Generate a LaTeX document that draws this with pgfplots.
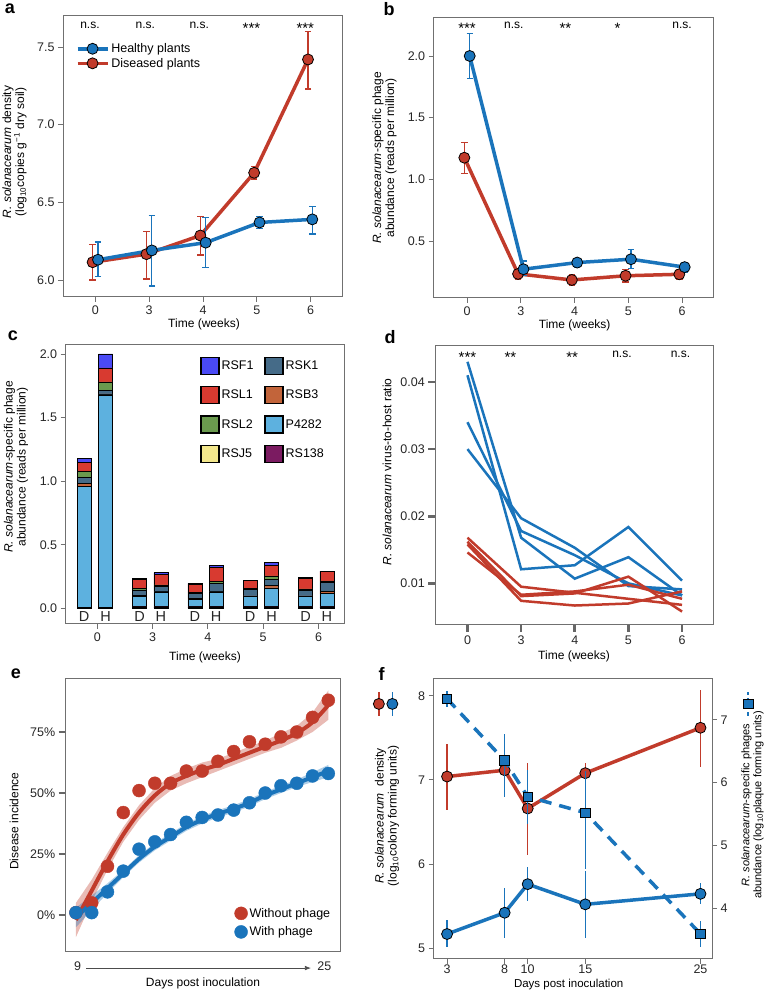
\documentclass[border=0pt]{standalone}
\usepackage{fontspec}
\setmainfont{Liberation Sans}
\usepackage{pgfplots}
\pgfplotsset{compat=1.18}
\usetikzlibrary{arrows.meta}
\definecolor{cred}{HTML}{C13B2B}
\definecolor{cblue}{HTML}{1A74BB}
\definecolor{axgray}{HTML}{707070}
\definecolor{rsf1}{HTML}{4A4AF5}
\definecolor{rsk1}{HTML}{456B88}
\definecolor{rsl1}{HTML}{D83A30}
\definecolor{rsb3}{HTML}{C2643A}
\definecolor{rsl2}{HTML}{6A9A4E}
\definecolor{p4282}{HTML}{5DB1DF}
\definecolor{rsj5}{HTML}{F3E78C}
\definecolor{rs138}{HTML}{7B1B61}
\newcommand{\Y}[1]{\the\dimexpr991pt-#1pt\relax}
\newcommand{\lab}{\fontsize{12}{13}\selectfont}
\newcommand{\sig}{\fontsize{12}{13}\selectfont}
\newcommand{\starfont}{\fontsize{15}{15}\selectfont}
\newcommand{\dhfont}{\fontsize{14.5}{16}\selectfont}
\pgfplotsset{
 base/.style={scale only axis, anchor=south west, axis line style={axgray, line width=1pt},
   tick style={axgray, line width=0.8pt}, tick align=outside, major tick length=5pt,
   tick label style={font=\fontsize{12.5}{14}\selectfont, text=black!85},
   /pgf/number format/assume math mode=true, xtick pos=bottom, ytick pos=left, clip=false,
   legend cell align=left},
 thickticks/.style={tick style={black!60, line width=2.6pt}, major tick length=7pt},
 rstyle/.style={cred, line width=3.5pt, mark=*, mark size=5.5pt, mark options={fill=cred, draw=black, line width=0.8pt, solid}},
 bstyle/.style={cblue, line width=3.5pt, mark=*, mark size=5.5pt, mark options={fill=cblue, draw=black, line width=0.8pt, solid}},
 errcap/.style={error bars/y dir=both, error bars/y explicit, error bars/error bar style={#1, line width=1.3pt, solid},
   error bars/error mark options={rotate=90, #1, mark size=3.2pt, line width=1.3pt}},
 errnocap/.style={error bars/y dir=both, error bars/y explicit, error bars/error bar style={#1, line width=1.5pt, solid},
   error bars/error mark=none},
 sq/.style={legend image code/.code={\draw[##1, draw=black, line width=1.2pt] (0pt,-8.5pt) rectangle (18pt,8.5pt);}},
 onedec/.style={yticklabel style={/pgf/number format/.cd, fixed, fixed zerofill, precision=1}},
}
\begin{document}
\begin{tikzpicture}
\path[use as bounding box] (0,0) rectangle (764pt,991pt);

% ---------------- panel a
\begin{axis}[base, onedec, at={(63pt,\Y{297})}, width=280pt, height=281pt,
  xmin=-0.6, xmax=4.6, ymin=5.89, ymax=7.70, xtick={0,1,2,3,4}, xticklabels={0,3,4,5,6},
  ytick={6,6.5,7,7.5},
  legend style={at={(0.045,0.91)}, anchor=north west, draw=none, fill=none, font=\fontsize{12.5}{14}\selectfont, inner sep=0pt, row sep=0pt},
  legend image code/.code={\draw[mark repeat=2,mark phase=2,#1] plot coordinates {(0pt,0pt) (15pt,0pt) (30pt,0pt)};}]
\addlegendimage{bstyle}\addlegendentry{Healthy plants}
\addlegendimage{rstyle}\addlegendentry{Diseased plants}
\addplot[rstyle, errcap=cred] coordinates {(-0.05,6.114) += (0,0.116) -= (0,0.114) (0.95,6.166) += (0,0.144) -= (0,0.161) (1.95,6.286) += (0,0.124) -= (0,0.126) (2.95,6.69) +- (0,0.04) (3.95,7.42) += (0,0.18) -= (0,0.19)};
\addplot[bstyle, errcap=cblue] coordinates {(0.05,6.13) += (0,0.115) -= (0,0.11) (1.05,6.19) += (0,0.225) -= (0,0.23) (2.05,6.24) +- (0,0.16) (3.05,6.37) +- (0,0.04) (4.03,6.39) += (0,0.085) -= (0,0.095)};
\node[font=\sig] at (axis cs:-0.1,7.64) {n.s.};
\node[font=\sig] at (axis cs:0.93,7.64) {n.s.};
\node[font=\sig] at (axis cs:1.93,7.64) {n.s.};
\node[font=\starfont] at (axis cs:2.9,7.62) {***};
\node[font=\starfont] at (axis cs:3.9,7.62) {***};
\end{axis}

% ---------------- panel b
\begin{axis}[base, onedec, at={(433.7pt,\Y{298})}, width=280pt, height=280.3pt,
  xmin=-0.62, xmax=4.59, ymin=0.04, ymax=2.31, xtick={0,1,2,3,4}, xticklabels={0,3,4,5,6},
  ytick={0.5,1,1.5,2}]
\addplot[rstyle, errcap=cred] coordinates {(-0.05,1.176) += (0,0.124) -= (0,0.126) (0.95,0.235) +- (0,0.04) (1.95,0.186) +- (0,0.045) (2.95,0.22) +- (0,0.05) (3.95,0.232) +- (0,0.04)};
\addplot[bstyle, errcap=cblue] coordinates {(0.05,2.0) +- (0,0.18) (1.05,0.273) += (0,0.067) -= (0,0.053) (2.05,0.327) +- (0,0.035) (3.05,0.354) += (0,0.076) -= (0,0.074) (4.05,0.29) +- (0,0.04)};
\node[font=\starfont] at (axis cs:0,2.225) {***};
\node[font=\sig] at (axis cs:0.87,2.245) {n.s.};
\node[font=\starfont] at (axis cs:1.83,2.225) {**};
\node[font=\starfont] at (axis cs:2.8,2.225) {*};
\node[font=\sig] at (axis cs:4,2.245) {n.s.};
\end{axis}

% ---------------- panel c
\begin{axis}[base, onedec, at={(65.7pt,\Y{624})}, width=278.3pt, height=279pt,
  xmin=-0.57, xmax=4.46, ymin=-0.124, ymax=2.073, ybar stacked, bar width=14pt, bar shift=0pt,
  xtick={0,1,2,3,4}, xticklabels={0,3,4,5,6}, ytick={0,0.5,1,1.5,2},
  legend columns=2,
  legend style={at={(0.483,0.958)}, anchor=north west, draw=none, fill=none, inner sep=0pt,
    font=\fontsize{12.5}{14}\selectfont, row sep=11pt,
    /tikz/every even column/.append style={column sep=9pt}}]
\addlegendimage{sq, fill=rsf1}\addlegendentry{RSF1}
\addlegendimage{sq, fill=rsk1}\addlegendentry{RSK1}
\addlegendimage{sq, fill=rsl1}\addlegendentry{RSL1}
\addlegendimage{sq, fill=rsb3}\addlegendentry{RSB3}
\addlegendimage{sq, fill=rsl2}\addlegendentry{RSL2}
\addlegendimage{sq, fill=p4282}\addlegendentry{P4282}
\addlegendimage{sq, fill=rsj5}\addlegendentry{RSJ5}
\addlegendimage{sq, fill=rs138}\addlegendentry{RS138}
\addplot[fill=rs138, draw=black, line width=0.6pt] coordinates {(-0.235,0.005) (0.15,0.005) (0.765,0.01) (1.15,0.01) (1.765,0.01) (2.15,0.01) (2.765,0.01) (3.15,0.01) (3.765,0.01) (4.15,0.01)};
\addplot[fill=rsj5, draw=black, line width=0.6pt] coordinates {(-0.235,0.003) (0.15,0.003) (0.765,0.004) (1.15,0.004) (1.765,0.004) (2.15,0.004) (2.765,0.004) (3.15,0.004) (3.765,0.004) (4.15,0.004)};
\addplot[fill=p4282, draw=black, line width=0.6pt] coordinates {(-0.235,0.952) (0.15,1.672) (0.765,0.08) (1.15,0.115) (1.765,0.058) (2.15,0.115) (2.765,0.078) (3.15,0.146) (3.765,0.078) (4.15,0.1)};
\addplot[fill=rsb3, draw=black, line width=0.6pt] coordinates {(-0.235,0.025) (0.15,0.008) (0.765,0.005) (1.15,0.005) (1.765,0.005) (2.15,0.005) (2.765,0.005) (3.15,0.02) (3.765,0.005) (4.15,0.018)};
\addplot[fill=rsk1, draw=black, line width=0.6pt] coordinates {(-0.235,0.045) (0.15,0.027) (0.765,0.045) (1.15,0.04) (1.765,0.04) (2.15,0.06) (2.765,0.05) (3.15,0.047) (3.765,0.045) (4.15,0.07)};
\addplot[fill=rsl2, draw=black, line width=0.6pt] coordinates {(-0.235,0.048) (0.15,0.068) (0.765,0.01) (1.15,0.01) (1.765,0.005) (2.15,0.02) (2.765,0.012) (3.15,0.028) (3.765,0.01) (4.15,0.013)};
\addplot[fill=rsl1, draw=black, line width=0.6pt] coordinates {(-0.235,0.07) (0.15,0.11) (0.765,0.076) (1.15,0.085) (1.765,0.068) (2.15,0.105) (2.765,0.058) (3.15,0.085) (3.765,0.085) (4.15,0.073)};
\addplot[fill=rsf1, draw=black, line width=0.6pt] coordinates {(-0.235,0.032) (0.15,0.11) (0.765,0.005) (1.15,0.012) (1.765,0.005) (2.15,0.018) (2.765,0.005) (3.15,0.02) (3.765,0.003) (4.15,0.005)};
\node[font=\dhfont, text=black!85] at (axis cs:-0.235,-0.068) {D};
\node[font=\dhfont, text=black!85] at (axis cs:0.15,-0.068) {H};
\node[font=\dhfont, text=black!85] at (axis cs:0.765,-0.068) {D};
\node[font=\dhfont, text=black!85] at (axis cs:1.15,-0.068) {H};
\node[font=\dhfont, text=black!85] at (axis cs:1.765,-0.068) {D};
\node[font=\dhfont, text=black!85] at (axis cs:2.15,-0.068) {H};
\node[font=\dhfont, text=black!85] at (axis cs:2.765,-0.068) {D};
\node[font=\dhfont, text=black!85] at (axis cs:3.15,-0.068) {H};
\node[font=\dhfont, text=black!85] at (axis cs:3.765,-0.068) {D};
\node[font=\dhfont, text=black!85] at (axis cs:4.15,-0.068) {H};
\end{axis}

% ---------------- panel d
\begin{axis}[base, thickticks, at={(435.3pt,\Y{625})}, width=278.4pt, height=279.3pt,
  xmin=-0.6, xmax=4.59, ymin=0.0038, ymax=0.0454, xtick={0,1,2,3,4}, xticklabels={0,3,4,5,6},
  ytick={0.01,0.02,0.03,0.04}, scaled y ticks=false,
  yticklabel style={/pgf/number format/.cd, fixed, fixed zerofill, precision=2}]
\addplot[cblue, line width=2.5pt] coordinates {(0,0.043) (1,0.0168) (2,0.0107) (3,0.0139) (4,0.0082)};
\addplot[cblue, line width=2.5pt] coordinates {(0,0.041) (1,0.0121) (2,0.0127) (3,0.0184) (4,0.0104)};
\addplot[cblue, line width=2.5pt] coordinates {(0,0.034) (1,0.0178) (2,0.0142) (3,0.0100) (4,0.0082)};
\addplot[cblue, line width=2.5pt] coordinates {(0,0.030) (1,0.0197) (2,0.0153) (3,0.0096) (4,0.0091)};
\addplot[cred, line width=2.5pt] coordinates {(0,0.0168) (1,0.0095) (2,0.0086) (3,0.0077) (4,0.0068)};
\addplot[cred, line width=2.5pt] coordinates {(0,0.0162) (1,0.0081) (2,0.0085) (3,0.0110) (4,0.0058)};
\addplot[cred, line width=2.5pt] coordinates {(0,0.0158) (1,0.0074) (2,0.0067) (3,0.0070) (4,0.0088)};
\addplot[cred, line width=2.5pt] coordinates {(0,0.0146) (1,0.0083) (2,0.0088) (3,0.0098) (4,0.0077)};
\node[font=\starfont] at (axis cs:0,0.0437) {***};
\node[font=\starfont] at (axis cs:0.8,0.0437) {**};
\node[font=\starfont] at (axis cs:1.95,0.0437) {**};
\node[font=\sig] at (axis cs:2.88,0.0441) {n.s.};
\node[font=\sig] at (axis cs:3.97,0.0441) {n.s.};
\end{axis}

% ---------------- panel e
\begin{axis}[base, thickticks, at={(65.7pt,\Y{951.7})}, width=274.3pt, height=273.4pt,
  xmin=8.35, xmax=25.74, ymin=-15, ymax=97, ytick={0,25,50,75}, yticklabels={0\%,25\%,50\%,75\%},
  xtick={9.1,24.75}, xticklabels={9,25}, xtick style={draw=none},
  legend style={at={(0.615,0.045)}, anchor=south west, draw=none, fill=none, inner sep=0pt,
    font=\fontsize{12.5}{14}\selectfont, row sep=4pt},
  legend image code/.code={\draw[#1] plot coordinates {(6.5pt,0pt)};}]
\addplot[fill=cred, fill opacity=0.35, draw=none, forget plot] coordinates {(9,5) (10,14.5) (11,25.5) (12,36) (13,45) (14,52) (15,57) (16,60) (17,62.5) (18,64) (19,66.5) (20,69) (21,71.5) (22,74.5) (23,77.5) (24,83) (25,92)
 (25,80) (24,75) (23,71.5) (22,68.5) (21,66.5) (20,64) (19,61.5) (18,59) (17,56.5) (16,54) (15,51) (14,46) (13,39) (12,30) (11,18.5) (10,5.5) (9,-9)};
\addplot[fill=cblue, fill opacity=0.35, draw=none, forget plot] coordinates {(9,3) (10,8) (11,13) (12,18.5) (13,24.5) (14,29.5) (15,33.5) (16,37.5) (17,40.5) (18,43) (19,45) (20,47.5) (21,50.5) (22,53) (23,55.5) (24,58.5) (25,61.5)
 (25,56.5) (24,54.5) (23,52.5) (22,50) (21,47.5) (20,44.5) (19,42) (18,40) (17,37.5) (16,34.5) (15,30.5) (14,26.5) (13,21.5) (12,15.5) (11,9) (10,2) (9,-5)};
\addplot[cred, line width=4pt, smooth, forget plot] coordinates {(9,-2) (10,10) (11,22) (12,33) (13,42) (14,49) (15,54) (16,57) (17,59.5) (18,61.5) (19,64) (20,66.5) (21,69) (22,71.5) (23,74.5) (24,79) (25,86)};
\addplot[cblue, line width=4pt, smooth, forget plot] coordinates {(9,-1) (10,5) (11,11) (12,17) (13,23) (14,28) (15,32) (16,36) (17,39) (18,41.5) (19,43.5) (20,46) (21,49) (22,51.5) (23,54) (24,56.5) (25,59)};
\addplot[only marks, mark=*, mark size=6.5pt, cred, mark options={draw=none, fill=cred}] coordinates {(9,1) (10,5) (11,20) (12,42) (13,51) (14,54) (15,54) (16,59) (17,59) (18,63) (19,67) (20,71) (21,70) (22,73) (23,75) (24,81) (25,88)};
\addlegendentry{Without phage}
\addplot[only marks, mark=*, mark size=6.5pt, cblue, mark options={draw=none, fill=cblue}] coordinates {(9,1) (10,1) (11,9.5) (12,18) (13,27) (14,30) (15,33) (16,38) (17,40) (18,41) (19,43) (20,46) (21,50) (22,53) (23,54) (24,57) (25,58)};
\addlegendentry{With phage}
\draw[black!70, line width=0.7pt, -{Latex[length=6pt,width=4.5pt]}] (axis cs:9.65,-21.7) -- (axis cs:23.9,-21.7);
\end{axis}

% ---------------- panel f (left axis)
\begin{axis}[base, at={(433.7pt,\Y{959})}, width=278.3pt, height=280pt,
  xmin=1.84, xmax=26, ymin=4.87, ymax=8.2, xtick={3,8,10,15,25}, ytick={5,6,7,8},
  xticklabel style={yshift=2.5pt},
  legend columns=2,
  legend style={at={(-0.171,0.911)}, anchor=center, draw=none, fill=none, inner sep=0pt,
    nodes={inner sep=0pt}, /tikz/every even column/.append style={column sep=1.5pt}},
  legend image code/.code={\draw[#1, line width=1.6pt] (0pt,-12pt) -- (0pt,12pt); \draw[#1] plot coordinates {(0pt,0pt)};}]
\addplot[rstyle, errnocap=cred] coordinates {(3,7.04) += (0,0.39) -= (0,0.40) (8,7.115) += (0,0.185) -= (0,0.185) (10,6.66) += (0,0.54) -= (0,0.55) (15,7.08) += (0,0.12) -= (0,0.12) (25,7.62) += (0,0.45) -= (0,0.47)};
\addlegendentry{\mbox{}}
\addplot[bstyle, errnocap=cblue] coordinates {(3,5.167) += (0,0.163) -= (0,0.157) (8,5.42) += (0,0.29) -= (0,0.30) (10,5.76) += (0,0.21) -= (0,0.20) (15,5.52) += (0,0.40) -= (0,0.40) (25,5.645) += (0,0.125) -= (0,0.115)};
\addlegendentry{\mbox{}}
\end{axis}
% ---------------- panel f (right axis)
\begin{axis}[scale only axis, anchor=south west, at={(433.7pt,\Y{959})}, width=278.3pt, height=280pt,
  xmin=1.84, xmax=26, ymin=3.19, ymax=7.65, axis x line=none, axis y line*=right,
  axis line style={axgray, line width=1pt}, tick style={axgray, line width=0.8pt}, tick align=outside,
  major tick length=5pt, tick label style={font=\fontsize{12.5}{14}\selectfont, text=black!85},
  /pgf/number format/assume math mode=true, ytick={4,5,6,7}, clip=false,
  legend style={at={(1.132,0.911)}, anchor=center, draw=none, fill=none, inner sep=0pt, nodes={inner sep=0pt}},
  legend image code/.code={\draw[#1, line width=2pt, dash pattern=on 4pt off 3pt] (0pt,-12pt) -- (0pt,12pt); \draw[#1] plot coordinates {(0pt,0pt)};}]
\addplot[cblue, line width=3.5pt, dash pattern=on 12pt off 8pt, mark=square*, mark size=4.8pt,
  mark options={solid, fill=cblue, draw=black, line width=0.8pt}, errnocap=cblue]
  coordinates {(3,7.335) += (0,0.13) -= (0,0.13) (8,6.35) += (0,0.42) -= (0,0.58) (10,5.775) += (0,0.42) -= (0,0.44) (15,5.52) += (0,0.67) -= (0,0.90) (25,3.59) += (0,0.21) -= (0,0.21)};
\addlegendentry{\mbox{}}
\end{axis}

% ---------------- texts
\foreach \t/\x/\y in {a/10/9, b/389/9, c/13/336, d/390/337, e/16/674, f/381.5/674}{
  \node[font=\fontsize{18}{19}\selectfont\bfseries] at (\x pt,\Y{\y}) {\t};
}
\node[rotate=90, align=center, font=\lab] at (14.5pt,\Y{152}) {\textit{R. solanacearum} density\\(log\textsubscript{10}copies g\textsuperscript{−1} dry soil)};
\node[rotate=90, align=center, font=\lab] at (384.5pt,\Y{158}) {\textit{R. solanacearum}-specific phage\\abundance (reads per million)};
\node[rotate=90, align=center, font=\lab] at (16pt,\Y{467}) {\textit{R. solanacearum}-specific phage\\abundance (reads per million)};
\node[rotate=90, align=center, font=\lab] at (387pt,\Y{472}) {\textit{R. solanacearum} virus-to-host ratio};
\node[rotate=90, align=center, font=\lab] at (14pt,\Y{821}) {Disease incidence};
\node[rotate=90, align=center, font=\lab] at (387pt,\Y{816}) {\textit{R. solanacearum}\ \ density\\(log\textsubscript{10}colony forming units)};
\node[rotate=90, align=center, font=\fontsize{11}{12}\selectfont] at (752.5pt,\Y{805}) {\textit{R. solanacearum}-specific phages\\abundance (log\textsubscript{10}plaque forming units)};
\node[font=\lab] at (204pt,\Y{324}) {Time (weeks)};
\node[font=\lab] at (574.7pt,\Y{325}) {Time (weeks)};
\node[font=\lab] at (205pt,\Y{657}) {Time (weeks)};
\node[font=\lab] at (574pt,\Y{656}) {Time (weeks)};
\node[font=\lab] at (203pt,\Y{983}) {Days post inoculation};
\node[font=\fontsize{11.5}{12}\selectfont] at (568.7pt,\Y{984.5}) {Days post inoculation};
\end{tikzpicture}
\end{document}
